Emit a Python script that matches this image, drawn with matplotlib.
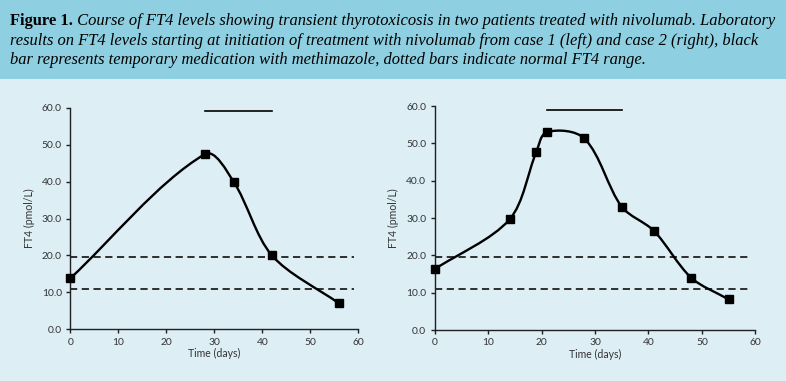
import numpy as np
import matplotlib.pyplot as plt
from matplotlib.path import Path
from matplotlib.patches import PathPatch, Rectangle

# case 1 (left)
days_1 = [0, 28, 34, 42, 56]
ft4_1 = [13.8, 47.4, 40.0, 20.0, 7.0]
mmi_1 = [28, 42]          # methimazole period

# case 2 (right)
days_2 = [0, 14, 19, 21, 28, 35, 41, 48, 55]
ft4_2 = [16.3, 29.6, 47.6, 53.0, 51.3, 33.0, 26.6, 14.0, 8.2]
mmi_2 = [21, 35]

normal_range = [11.0, 19.5]
bar_level = 59.0
x_ticks = [0, 10, 20, 30, 40, 50, 60]
y_ticks = [0, 10, 20, 30, 40, 50, 60]

caption_bold = "Figure 1."
caption = [
    " Course of FT4 levels showing transient thyrotoxicosis in two patients treated with nivolumab. Laboratory",
    "results on FT4 levels starting at initiation of treatment with nivolumab from case 1 (left) and case 2 (right), black",
    "bar represents temporary medication with methimazole, dotted bars indicate normal FT4 range.",
]

W, H = 786, 381
header_col = '#8ecfe1'
body_col = '#ddeef5'
ink = '#333333'


def smooth_path(x, y, sx, sy, k=0.3):
    # smoothed line: cubic Bezier segments, tangent along neighbours,
    # handle length proportional to the segment length (in pixel space)
    p = np.column_stack([np.asarray(x, float) * sx, np.asarray(y, float) * sy])
    n = len(p)
    tang = []
    for i in range(n):
        a = p[i - 1] if i > 0 else p[i]
        b = p[i + 1] if i < n - 1 else p[i]
        d = b - a
        tang.append(d / np.hypot(*d))
    verts = [p[0]]
    codes = [Path.MOVETO]
    for i in range(n - 1):
        seg = np.hypot(*(p[i + 1] - p[i]))
        c1 = p[i] + tang[i] * seg * k
        c2 = p[i + 1] - tang[i + 1] * seg * k
        verts += [c1, c2, p[i + 1]]
        codes += [Path.CURVE4] * 3
    v = np.array(verts)
    v[:, 0] /= sx
    v[:, 1] /= sy
    return Path(v, codes)


fig = plt.figure(figsize=(W / 100, H / 100), dpi=100, facecolor=body_col)
fig.patches.append(Rectangle((0, 1 - 79 / H), 1, 79 / H, transform=fig.transFigure,
                             facecolor=header_col, edgecolor='none', zorder=0))

# caption
serif = 'Liberation Serif'
fs_cap = 11.9
t0 = fig.text(10 / W, 1 - 25 / H, caption_bold, fontsize=fs_cap, fontweight='bold',
              family=serif, color='black', va='baseline')
r = fig.canvas.get_renderer()
bb = t0.get_window_extent(r)
fig.text(bb.x1 / W, 1 - 25 / H, caption[0], fontsize=fs_cap, style='italic',
         family=serif, color='black', va='baseline')
fig.text(10 / W, 1 - 45 / H, caption[1], fontsize=fs_cap, style='italic',
         family=serif, color='black', va='baseline')
fig.text(10 / W, 1 - 64 / H, caption[2], fontsize=fs_cap, style='italic',
         family=serif, color='black', va='baseline')


def panel(rect, days, ft4, mmi):
    ax = fig.add_axes(rect)
    ax.set_facecolor('none')
    ax.set_xlim(0, 60)
    ax.set_ylim(0, 60)
    ax.set_xticks(x_ticks)
    ax.set_yticks(y_ticks)
    ax.set_yticklabels([f'{v:.1f}' for v in y_ticks])
    for s in ['top', 'right']:
        ax.spines[s].set_visible(False)
    for s in ['left', 'bottom']:
        ax.spines[s].set_color('#202020')
        ax.spines[s].set_linewidth(1.0)
    ax.tick_params(direction='out', length=3, width=1, color='#202020',
                   labelsize=7.4, labelcolor=ink, pad=3)
    for v in normal_range:
        ax.plot([0, 59], [v, v], color='#202020', lw=1.3, ls=(0, (4, 2.5)),
                clip_on=False, zorder=2)
    ax.plot(mmi, [bar_level, bar_level], color='black', lw=1.2, clip_on=False)
    sx = rect[2] * W / 60
    sy = rect[3] * H / 60
    ax.add_patch(PathPatch(smooth_path(days, ft4, sx, sy), facecolor='none',
                           edgecolor='black', lw=1.7, zorder=3, clip_on=False))
    ax.plot(days, ft4, ls='none', marker='s', ms=6, color='black', zorder=4,
            clip_on=False)
    ax.set_xlabel('Time (days)', fontsize=7.6, color=ink, labelpad=1)
    ax.set_ylabel('FT4 (pmol/L)', fontsize=7.6, color=ink, labelpad=5)
    for lab in ax.get_xticklabels() + ax.get_yticklabels():
        lab.set_family('Lato')
    ax.xaxis.label.set_family('Lato')
    ax.yaxis.label.set_family('Lato')
    return ax


panel([70.3 / W, 1 - 329.3 / H, 288 / W, 221.6 / H], days_1, ft4_1, mmi_1)
panel([434.7 / W, 1 - 330 / H, 320.6 / W, 224 / H], days_2, ft4_2, mmi_2)

fig.savefig('out.png', dpi=100, facecolor=body_col)
